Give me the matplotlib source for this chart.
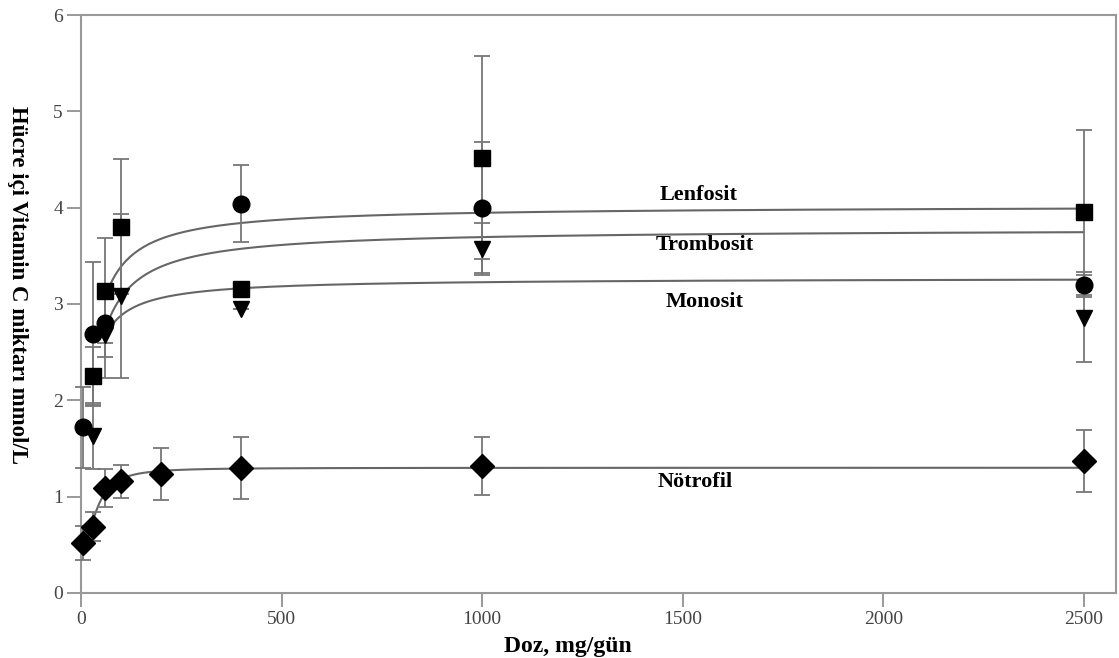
import numpy as np
import matplotlib
matplotlib.use("Agg")
import matplotlib.pyplot as plt

# measured points (dose in mg/gun, intracellular vitamin C in mmol/L)
dose_all = [5, 30, 60, 100, 200, 400, 1000, 2500]
notrofil = [0.52, 0.69, 1.09, 1.16, 1.24, 1.30, 1.32, 1.37]
notrofil_err = [0.18, 0.15, 0.20, 0.17, 0.27, 0.32, 0.30, 0.32]

dose_circ = [5, 30, 60, 400, 1000, 2500]
circ = [1.72, 2.69, 2.80, 4.04, 4.00, 3.20]
circ_err = [0.42, 0.75, 0.35, 0.40, 0.68, 0.13]

dose_sq = [30, 60, 100, 400, 1000, 2500]
sq = [2.25, 3.14, 3.80, 3.16, 4.52, 3.95]
sq_err = [0.30, 0.55, 0.70, 0.0, 1.05, 0.86]

dose_tri = [30, 60, 100, 400, 1000, 2500]
tri = [1.63, 2.68, 3.08, 2.95, 3.57, 2.85]
tri_err = [0.34, 0.45, 0.85, 0.0, 0.27, 0.45]

# fitted saturation curves: (name, Vmax, K, start dose)
fits = [("Lenfosit", 4.02, 18.6, 60),
        ("Trombosit", 3.78, 23.1, 60),
        ("Monosit", 3.27, 13.5, 60)]
neut_fit = (0.45, 1.30, 40.0, 2.0)  # baseline, max, K, hill

labels = ["Lenfosit", "Trombosit", "Monosit", "Nötrofil"]
label_x = [1540, 1555, 1555, 1530]
label_y = [4.13, 3.61, 3.02, 1.15]

serif = "Liberation Serif"
grey = "#666666"

fig = plt.figure(figsize=(11.19, 6.58), dpi=100)
ax = fig.add_axes([0.0724, 0.0988, 0.9249, 0.8784])

# curves
for name, vmax, k, x0 in fits:
    xs = np.linspace(x0, 2500, 400)
    ax.plot(xs, vmax * xs / (k + xs), color=grey, lw=1.5, zorder=2)
b, m, k, n = neut_fit
xs = np.linspace(0, 2500, 600)
ax.plot(xs, b + (m - b) * xs**n / (k**n + xs**n), color=grey, lw=1.5, zorder=2)

# points with error bars
ebkw = dict(ecolor="#777777", elinewidth=1.3, capsize=6, capthick=1.3,
            color="black", ls="none", zorder=3, clip_on=False)
ax.errorbar(dose_all, notrofil, yerr=notrofil_err, marker="D", ms=12, **ebkw)
ax.errorbar(dose_circ, circ, yerr=circ_err, marker="o", ms=12, **ebkw)
ax.errorbar(dose_sq, sq, yerr=sq_err, marker="s", ms=11, **ebkw)
ax.errorbar(dose_tri, tri, yerr=tri_err, marker="v", ms=11, **ebkw)

for t, x, y in zip(labels, label_x, label_y):
    ax.text(x, y, t, fontsize=16, fontweight="bold", family=serif,
            ha="center", va="center")

ax.set_xlim(0, 2580)
ax.set_ylim(0, 6)
ax.set_xticks([0, 500, 1000, 1500, 2000, 2500])
ax.set_yticks([0, 1, 2, 3, 4, 5, 6])
ax.tick_params(direction="out", length=10, width=1.2, color="#888888",
               labelsize=14, labelcolor="#444444", pad=3)
for lab in ax.get_xticklabels() + ax.get_yticklabels():
    lab.set_family(serif)
for s in ax.spines.values():
    s.set_color("#999999")
    s.set_linewidth(1.5)

ax.set_xlabel("Doz, mg/gün", fontsize=17, fontweight="bold", family=serif)
ax.xaxis.set_label_coords(0.47, -0.074)
ax.set_ylabel("Hücre içi Vitamin C miktarı mmol/L", fontsize=16.5,
              fontweight="bold", family=serif, rotation=270, va="center")
ax.yaxis.set_label_coords(-0.061, 0.533)

fig.savefig("out.png", dpi=100)
